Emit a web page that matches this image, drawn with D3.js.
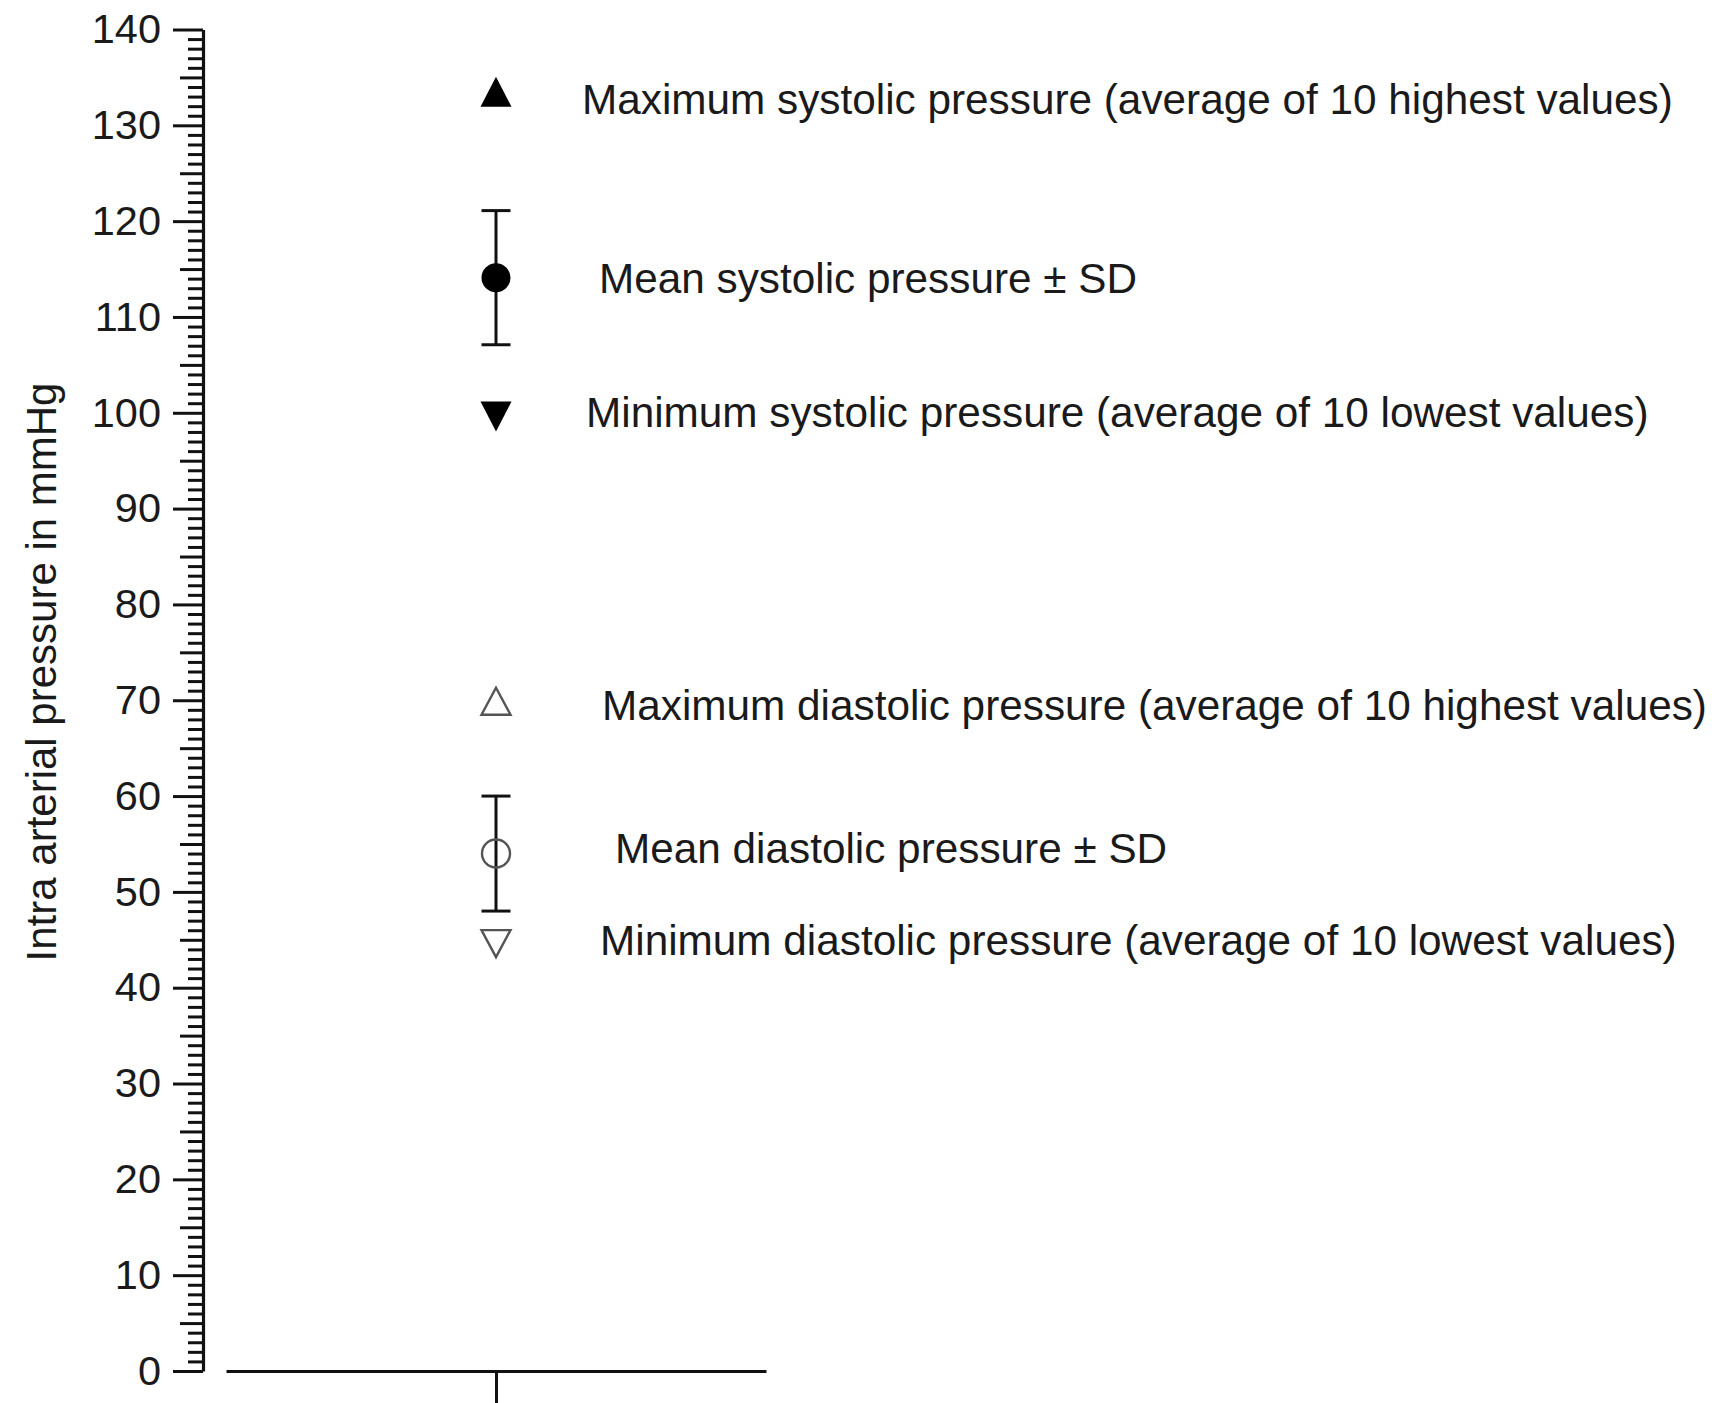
<!DOCTYPE html>
<html><head><meta charset="utf-8">
<script src="https://cdn.jsdelivr.net/npm/d3@7"></script>
<style>body{margin:0;background:#fff}svg{display:block}</style>
</head><body><svg id="chart" width="1712" height="1403"></svg>
<script>
// ---- data ----
const categories = ["Group"];
const seriesNames = [
  "Maximum systolic pressure (average of 10 highest values)",
  "Mean systolic pressure \u00b1 SD",
  "Minimum systolic pressure (average of 10 lowest values)",
  "Maximum diastolic pressure (average of 10 highest values)",
  "Mean diastolic pressure \u00b1 SD",
  "Minimum diastolic pressure (average of 10 lowest values)"
];
const seriesValues = [133.5, 114.1, 99.6, 69.9, 54, 44.6];
const seriesSD = [null, 7, null, null, 6, null];
const seriesSymbols = ["triUp", "circle", "triDown", "triUp", "circle", "triDown"];
const seriesFilled = [true, true, true, false, false, false];
const yTickLabels = [0, 10, 20, 30, 40, 50, 60, 70, 80, 90, 100, 110, 120, 130, 140];
const yTitle = "Intra arterial pressure in mmHg";

// ---- layout (positions/styles) ----
const labelX = [582, 599, 586, 602, 615, 600];
const labelDy = [8, 1, -4, 4.5, -5, -3];
const font = "'Liberation Sans', Arial, sans-serif";

const svg = d3.select("#chart");
const y = d3.scaleLinear().domain([0, 140]).range([1371, 29.5]);
const x = d3.scalePoint().domain(categories).range([226, 766]).padding(0.5);
const axisX = 203;

// y axis
const yAxis = d3.axisLeft(y)
  .tickValues(d3.range(0, 141, 1))
  .tickSizeInner(30)
  .tickSizeOuter(0)
  .tickPadding(12)
  .tickFormat(d => yTickLabels.includes(d) ? d : "");
const gy = svg.append("g").attr("transform", `translate(${axisX},0)`).call(yAxis);
gy.select(".domain").attr("stroke", "#111").attr("stroke-width", 3.2);
gy.selectAll(".tick line")
  .attr("stroke", "#111")
  .attr("stroke-width", 3)
  .attr("x2", d => d % 10 === 0 ? -30 : (d % 5 === 0 ? -23 : -15));
gy.selectAll(".tick text")
  .attr("font-family", font).attr("font-size", 41.5).attr("fill", "#1a1a1a");

// x axis
const xAxis = d3.axisBottom(x).tickSizeInner(32).tickSizeOuter(0).tickFormat("");
const gx = svg.append("g").attr("transform", `translate(0,${y(0)})`).call(xAxis);
gx.select(".domain").attr("stroke", "#111").attr("stroke-width", 3.2);
gx.selectAll(".tick line").attr("stroke", "#111").attr("stroke-width", 3);

// y title
svg.append("text")
  .attr("transform", `translate(41,672) rotate(-90)`)
  .attr("text-anchor", "middle").attr("dominant-baseline", "central")
  .attr("font-family", font).attr("font-size", 42).attr("fill", "#1a1a1a")
  .text(yTitle);

// symbols
function triangle(up, w, h) {
  return {
    draw(ctx) {
      const s = up ? 1 : -1;
      ctx.moveTo(0, -s * h / 2);
      ctx.lineTo(w / 2, s * h / 2);
      ctx.lineTo(-w / 2, s * h / 2);
      ctx.closePath();
    }
  };
}
const cx = x(categories[0]);
const data = seriesNames.map((n, i) => ({
  name: n, value: seriesValues[i], sd: seriesSD[i], sym: seriesSymbols[i], filled: seriesFilled[i], i
}));

const g = svg.append("g");
// error bars
data.filter(d => d.sd != null).forEach(d => {
  const eb = g.append("g").attr("stroke", "#111").attr("stroke-width", 3);
  eb.append("line").attr("x1", cx).attr("x2", cx).attr("y1", y(d.value + d.sd)).attr("y2", y(d.value - d.sd));
  [d.value + d.sd, d.value - d.sd].forEach(v => {
    eb.append("line").attr("x1", cx - 14.5).attr("x2", cx + 14.5).attr("y1", y(v)).attr("y2", y(v));
  });
});

data.forEach(d => {
  let p;
  if (d.sym === "circle") {
    p = g.append("circle").attr("cx", cx).attr("cy", y(d.value)).attr("r", d.filled ? 14.5 : 14);
  } else {
    const w = d.filled ? 31 : 29, h = d.filled ? 30 : 27;
    p = g.append("path")
      .attr("transform", `translate(${cx},${y(d.value)})`)
      .attr("d", d3.symbol().type(triangle(d.sym === "triUp", w, h))());
  }
  if (d.filled) p.attr("fill", "#000");
  else p.attr("fill", "none").attr("stroke", "#555").attr("stroke-width", 2.4);
});

// legend labels
g.selectAll("text.lbl").data(data).enter().append("text")
  .attr("class", "lbl")
  .attr("x", d => labelX[d.i])
  .attr("y", d => y(d.value) + labelDy[d.i])
  .attr("dominant-baseline", "central")
  .attr("font-family", font).attr("font-size", 42.3).attr("fill", "#1a1a1a")
  .text(d => d.name);
</script>
</body></html>
